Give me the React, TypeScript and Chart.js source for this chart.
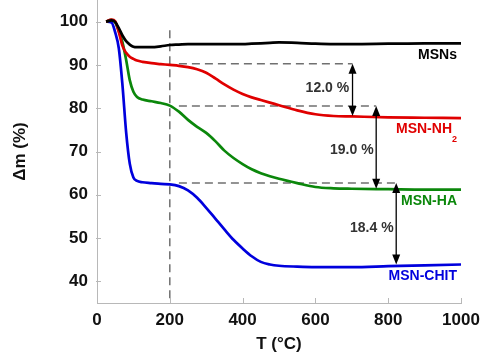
import { useEffect, useRef } from "react";
import { Chart, registerables } from "chart.js";
Chart.register(...registerables);

// ---- data ----
const temps = [25, 40, 50, 60, 70, 80, 90, 100, 110, 125, 150, 175, 200, 225, 250, 275, 300, 325, 350, 375, 400, 425, 450, 475, 500, 550, 600, 650, 700, 800, 900, 1000];
const msns = [100, 100.3, 99.9, 98.5, 96.8, 95.5, 94.7, 94.2, 94.1, 94.1, 94.1, 94.3, 94.6, 94.7, 94.8, 94.8, 94.8, 94.8, 94.8, 94.8, 94.8, 94.9, 95.0, 95.1, 95.2, 95.1, 94.9, 94.8, 94.8, 94.9, 95.0, 95.0];
const msnNH2 = [100, 100.5, 100.1, 97.6, 94.4, 92.8, 91.9, 91.4, 91.0, 90.7, 90.4, 90.2, 90.0, 89.8, 89.5, 89.0, 88.2, 86.9, 85.5, 84.3, 83.3, 82.5, 81.9, 81.3, 80.7, 79.5, 78.6, 78.2, 78.1, 77.9, 77.8, 77.7];
const msnHA = [100, 100.4, 99.8, 97.8, 95.2, 91.2, 86.5, 83.8, 82.6, 82.0, 81.6, 81.2, 80.6, 79.2, 77.3, 75.7, 74.3, 72.4, 70.2, 68.5, 67.1, 65.9, 65.0, 64.3, 63.7, 62.7, 61.8, 61.5, 61.4, 61.3, 61.2, 61.2];
const msnCHIT = [100, 99.8, 97.5, 93.8, 85.3, 74.5, 67.2, 64.0, 63.2, 62.9, 62.7, 62.5, 62.4, 62.0, 61.0, 59.3, 57.0, 54.5, 52.0, 49.6, 47.6, 45.8, 44.5, 43.9, 43.6, 43.4, 43.3, 43.3, 43.3, 43.5, 43.7, 43.9];

const seriesNames = ["MSNs", "MSN-NH", "MSN-HA", "MSN-CHIT"];
const seriesColors = ["#000000", "#e00000", "#0b870b", "#0000dd"];

const xTicks = [0, 200, 400, 600, 800, 1000];
const yTicks = [40, 50, 60, 70, 80, 90, 100];

// guide lines and mass-loss steps
const guideT = 200;
const guideTop = 98;
const stepStartT = 225;
const stepLevels = [90.3, 80.5, 62.7];
const stepEndT = [702, 767, 822];
const arrowT = [702, 767, 822];
const arrowFrom = [90.3, 80.5, 62.7];
const arrowTo = [78.2, 61.4, 43.9];
const lossTexts = ["12.0 %", "19.0 %", "18.4 %"];

// ---- layout of annotation text (positions in data units) ----
const lossLabelPos = [
  { x: 633, y: 84.6 },
  { x: 700, y: 70.3 },
  { x: 755, y: 52.2 },
];
const seriesLabelPos = [
  { x: 989, y: 92.3 },
  { x: 989, y: 75.1 },
  { x: 989, y: 58.6 },
  { x: 989, y: 41.2 },
];

const FONT = "'Liberation Sans', Arial, Helvetica, sans-serif";

const annotationPlugin = {
  id: "tgaAnnotations",
  afterDatasetsDraw(chart: any) {
    const ctx = chart.ctx;
    const xs = chart.scales.x;
    const ys = chart.scales.y;
    const area = chart.chartArea;
    ctx.save();

    // inner tick marks
    ctx.strokeStyle = "#b8b8b8";
    ctx.lineWidth = 1;
    xTicks.forEach((t) => {
      if (t === 0) return;
      const px = Math.round(xs.getPixelForValue(t)) + 0.5;
      ctx.beginPath();
      ctx.moveTo(px, area.bottom);
      ctx.lineTo(px, area.bottom - 5);
      ctx.stroke();
    });
    yTicks.forEach((v) => {
      const py = Math.round(ys.getPixelForValue(v)) + 0.5;
      ctx.beginPath();
      ctx.moveTo(area.left - 1, py);
      ctx.lineTo(area.left + 4, py);
      ctx.stroke();
    });

    // arrows
    ctx.strokeStyle = "#000";
    ctx.fillStyle = "#000";
    ctx.lineWidth = 1.3;
    const headL = 10;
    const headW = 4;
    arrowT.forEach((t, i) => {
      const px = xs.getPixelForValue(t);
      const y1 = ys.getPixelForValue(arrowFrom[i]);
      const y2 = ys.getPixelForValue(arrowTo[i]);
      ctx.beginPath();
      ctx.moveTo(px, y1 + headL - 1);
      ctx.lineTo(px, y2 - headL + 1);
      ctx.stroke();
      ctx.beginPath();
      ctx.moveTo(px, y1);
      ctx.lineTo(px - headW, y1 + headL);
      ctx.lineTo(px + headW, y1 + headL);
      ctx.closePath();
      ctx.fill();
      ctx.beginPath();
      ctx.moveTo(px, y2);
      ctx.lineTo(px - headW, y2 - headL);
      ctx.lineTo(px + headW, y2 - headL);
      ctx.closePath();
      ctx.fill();
    });

    // loss labels
    ctx.font = `bold 14px ${FONT}`;
    ctx.fillStyle = "#333";
    ctx.textAlign = "center";
    ctx.textBaseline = "middle";
    lossTexts.forEach((txt, i) => {
      ctx.fillText(txt, xs.getPixelForValue(lossLabelPos[i].x), ys.getPixelForValue(lossLabelPos[i].y));
    });

    // series labels
    seriesNames.forEach((name, i) => {
      const px = xs.getPixelForValue(seriesLabelPos[i].x);
      const py = ys.getPixelForValue(seriesLabelPos[i].y);
      ctx.fillStyle = seriesColors[i];
      ctx.textAlign = "right";
      ctx.textBaseline = "middle";
      if (i === 1) {
        ctx.font = `bold 9px ${FONT}`;
        const subW = ctx.measureText("2").width;
        ctx.textBaseline = "alphabetic";
        ctx.fillText("2", px, py + 13);
        ctx.font = `bold 14px ${FONT}`;
        ctx.textBaseline = "middle";
        ctx.fillText(name, px - subW, py);
      } else {
        ctx.font = `bold 14px ${FONT}`;
        ctx.fillText(name, px, py);
      }
    });
    ctx.restore();
  },
};

export default function App() {
  const ref = useRef<HTMLCanvasElement | null>(null);
  useEffect(() => {
    if (!ref.current) return;
    const curves = [msns, msnNH2, msnHA, msnCHIT];
    const dashStyle = {
      borderColor: "#707070",
      borderWidth: 1.5,
      borderDash: [8, 5],
      pointRadius: 0,
      fill: false,
      tension: 0,
    };
    const datasets: any[] = curves.map((vals, i) => ({
      label: seriesNames[i],
      data: temps.map((t, j) => ({ x: t, y: vals[j] })),
      borderColor: seriesColors[i],
      borderWidth: 2.7,
      pointRadius: 0,
      fill: false,
      cubicInterpolationMode: "monotone",
    }));
    datasets.push({
      ...dashStyle,
      label: "guide",
      data: [
        { x: guideT, y: guideTop },
        { x: guideT, y: 35 },
      ],
    });
    stepLevels.forEach((lv, i) => {
      datasets.push({
        ...dashStyle,
        label: "step" + i,
        data: [
          { x: stepStartT, y: lv },
          { x: stepEndT[i], y: lv },
        ],
      });
    });

    const chart = new Chart(ref.current, {
      type: "line",
      data: { datasets },
      options: {
        animation: false,
        responsive: false,
        devicePixelRatio: 1,
        layout: { padding: { left: 0, right: 20, top: 0, bottom: 0 } },
        plugins: { legend: { display: false }, tooltip: { enabled: false } },
        scales: {
          x: {
            type: "linear",
            min: 0,
            max: 1000,
            afterBuildTicks: (s: any) => {
              s.ticks = xTicks.map((v) => ({ value: v }));
            },
            afterFit: (s: any) => {
              s.height = 52;
              s.paddingLeft = 0;
              s.paddingRight = 0;
            },
            grid: { display: false, drawTicks: false },
            border: { display: true, color: "#b8b8b8", width: 1 },
            ticks: {
              padding: 7,
              color: "#111",
              font: { family: FONT, size: 17, weight: "bold" },
              maxRotation: 0,
              callback: (v: any) => String(v),
            },
            title: {
              display: true,
              text: "T (°C)",
              color: "#111",
              font: { family: FONT, size: 17, weight: "bold" },
              padding: { top: 0, bottom: 0 },
            },
          },
          y: {
            type: "linear",
            min: 35,
            max: 105,
            afterBuildTicks: (s: any) => {
              s.ticks = yTicks.map((v) => ({ value: v }));
            },
            afterFit: (s: any) => {
              s.width = 97;
              s.paddingTop = 0;
              s.paddingBottom = 0;
            },
            grid: { display: false, drawTicks: false },
            border: { display: true, color: "#b8b8b8", width: 1 },
            ticks: {
              padding: 9,
              color: "#111",
              font: { family: FONT, size: 17, weight: "bold" },
              callback: (v: any) => String(v),
            },
            title: {
              display: true,
              text: "Δm (%)",
              color: "#111",
              font: { family: FONT, size: 17, weight: "bold" },
              padding: { top: 10, bottom: 0 },
            },
          },
        },
      },
      plugins: [annotationPlugin],
    } as any);
    return () => chart.destroy();
  }, []);

  return (
    <div style={{ position: "fixed", left: 0, top: 0, width: 481, height: 355, background: "#fff" }}>
      <canvas ref={ref} width={481} height={355} style={{ display: "block" }} />
    </div>
  );
}
